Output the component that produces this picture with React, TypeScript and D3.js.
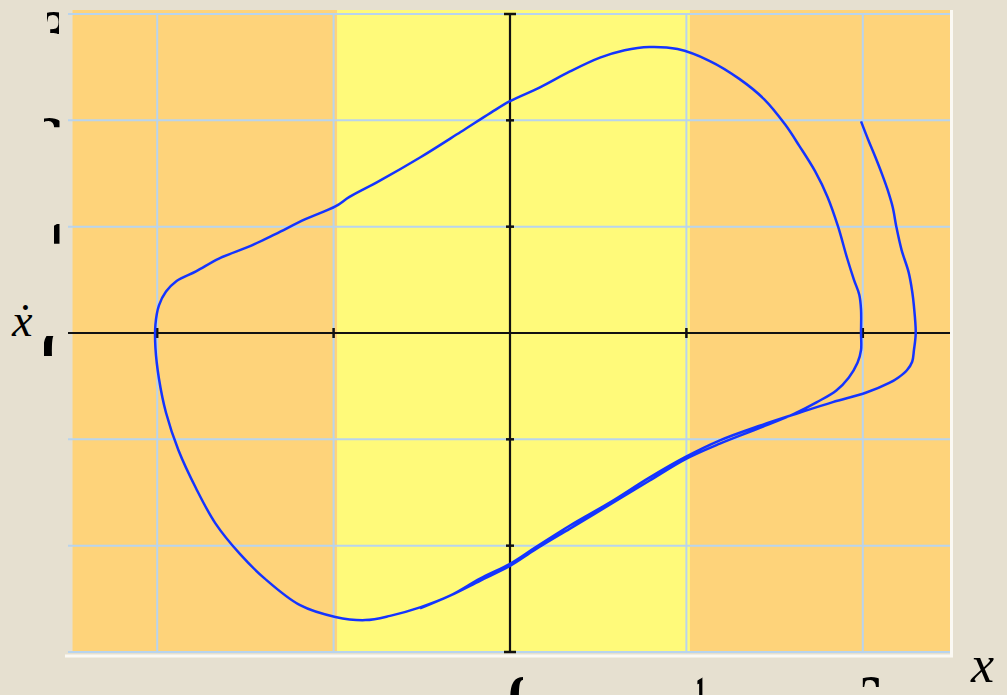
import React from "react";
import * as d3 from "d3";

const W = 1007;
const H = 695;

// Phase-plane trajectory: displacement x and velocity ẋ
const trajX = [
  1.99, 2.03, 2.07, 2.11, 2.14, 2.17, 2.19, 2.22, 2.26, 2.28, 2.29, 2.3, 2.29, 2.28, 2.25, 2.2,
  2.15, 2.02, 1.83, 1.64, 1.42, 1.19, 0.99, 0.79, 0.57, 0.34, 0.14, 0.0, -0.17, -0.34, -0.51,
  -0.68, -0.82, -0.99, -1.19, -1.39, -1.53, -1.67, -1.78, -1.88, -1.95, -1.99, -2.01, -2.01,
  -1.99, -1.95, -1.89, -1.78, -1.65, -1.47, -1.33, -1.16, -0.99, -0.91, -0.74, -0.51, -0.28,
  -0.11, 0.0, 0.17, 0.34, 0.51, 0.65, 0.79, 0.95, 1.13, 1.3, 1.44, 1.56, 1.64, 1.73, 1.8, 1.86,
  1.91, 1.95, 1.98, 1.99, 1.99, 1.99, 1.97, 1.92, 1.85, 1.74, 1.61, 1.42, 1.19, 0.99, 0.79,
  0.57, 0.34, 0.14, 0.0, -0.17, -0.34, -0.51,
];
const trajV = [
  1.99, 1.82, 1.66, 1.49, 1.35, 1.18, 1.0, 0.78, 0.57, 0.39, 0.25, 0.0, -0.16, -0.27, -0.35,
  -0.42, -0.47, -0.56, -0.65, -0.75, -0.87, -1.01, -1.17, -1.36, -1.59, -1.81, -2.02, -2.17,
  -2.31, -2.47, -2.58, -2.66, -2.7, -2.67, -2.56, -2.31, -2.08, -1.79, -1.46, -1.1, -0.75,
  -0.43, -0.14, 0.08, 0.26, 0.39, 0.49, 0.58, 0.7, 0.82, 0.93, 1.07, 1.19, 1.28, 1.43, 1.65,
  1.89, 2.07, 2.18, 2.31, 2.46, 2.59, 2.66, 2.69, 2.67, 2.56, 2.39, 2.2, 1.96, 1.76, 1.52, 1.28,
  1.0, 0.71, 0.5, 0.36, 0.22, 0.0, -0.16, -0.28, -0.42, -0.54, -0.65, -0.76, -0.89, -1.04,
  -1.19, -1.39, -1.61, -1.84, -2.04, -2.19, -2.33, -2.47, -2.59,
];

// Background bands along x
const bandFrom = [-2.48, -0.98, 1.02];
const bandTo = [-0.98, 1.02, 2.5];
const bandColor = ["#fed37a", "#fffa7a", "#fed37a"];

const gridX = [-2, -1, 1, 2];
const gridY = [3, 2, 1, -1, -2, -3];
const tickX = [-2, -1, 1, 2];
const tickY = [2, 1, -1, -2];
const xLabelValues = [0, 1, 2];
const xLabelText = ["0", "1", "2"];
const yLabelValues = [3, 2, 1, 0];
const yLabelText = ["3", "2", "1", "0"];

// Visible window of each (partly covered) tick label, relative to its tick: [dx, dy, w, h]
const yLabelWindow = [
  [47, -3, 12, 23],
  [44, -5, 15.5, 12],
  [54, -5, 5.5, 22],
  [44, 3, 12, 20],
];
const yLabelShift = [0, -5, 0, 0];
const xLabelWindow = [
  [-2, 675, 15, 20],
  [11, 675, 5, 20],
  [0, 676, 16, 11],
];
const xLabelShift = [0, 3, -3];

const BG = "#e6e0d0";
const GRID = "#b8d4ee";
const CURVE = "#1434ff";
const LABEL_FONT = "'Liberation Serif', 'DejaVu Serif', serif";

export default function App() {
  const x = d3.scaleLinear().domain([-2.5, 2.5]).range([69, 951]);
  const y = d3.scaleLinear().domain([-3, 3]).range([652, 14]);

  const pts: [number, number][] = trajX.map((v, i) => [v, trajV[i]]);
  const line = d3
    .line<[number, number]>()
    .x((d) => x(d[0]))
    .y((d) => y(d[1]))
    .curve(d3.curveCatmullRom.alpha(0.5));

  const top = y(3) - 4;
  const bottom = y(-3);
  const left = x(-2.5) - 1;
  const right = x(2.5) - 1;
  const x0 = x(0);
  const y0 = y(0);

  return (
    <svg
      width={W}
      height={H}
      style={{ position: "fixed", left: 0, top: 0, display: "block" }}
      xmlns="http://www.w3.org/2000/svg"
    >
      <defs>
        {yLabelValues.map((v, i) => {
          const [wx, wy, ww, wh] = yLabelWindow[i];
          return (
            <clipPath id={`ylab${i}`} key={`cy${i}`}>
              <rect x={wx} y={y(v) + wy} width={ww} height={wh} />
            </clipPath>
          );
        })}
        {xLabelValues.map((v, i) => {
          const [wx, wy, ww, wh] = xLabelWindow[i];
          return (
            <clipPath id={`xlab${i}`} key={`cx${i}`}>
              <rect x={x(v) + wx} y={wy} width={ww} height={wh} />
            </clipPath>
          );
        })}
      </defs>
      <rect x={0} y={0} width={W} height={H} fill={BG} />

      {/* colour bands */}
      {bandFrom.map((b, i) => (
        <rect
          key={`band${i}`}
          x={x(b)}
          y={top}
          width={x(bandTo[i]) - x(b)}
          height={bottom - top}
          fill={bandColor[i]}
        />
      ))}

      {/* grid */}
      {gridX.map((g) => (
        <line key={`gx${g}`} x1={x(g)} x2={x(g)} y1={y(3)} y2={bottom} stroke={GRID} strokeWidth={2} />
      ))}
      {gridY.map((g) => (
        <line key={`gy${g}`} x1={left} x2={right} y1={y(g)} y2={y(g)} stroke={GRID} strokeWidth={2} />
      ))}

      {/* frame edge */}
      <polyline
        points={`${right + 1.5},${top} ${right + 1.5},${bottom + 4} ${left - 3},${bottom + 4}`}
        fill="none"
        stroke="#fbf9f3"
        strokeWidth={3}
      />

      {/* axes */}
      <line x1={left} x2={right} y1={y0} y2={y0} stroke="#111" strokeWidth={2.2} />
      <line x1={x0} x2={x0} y1={y(3)} y2={bottom} stroke="#111" strokeWidth={2.2} />
      <line x1={x0 - 6} x2={x0 + 6} y1={y(3)} y2={y(3)} stroke="#111" strokeWidth={2.5} />
      <line x1={x0 - 6} x2={x0 + 6} y1={bottom} y2={bottom} stroke="#111" strokeWidth={2.5} />
      {tickY.map((t) => (
        <line key={`ty${t}`} x1={x0 - 4} x2={x0 + 4} y1={y(t)} y2={y(t)} stroke="#111" strokeWidth={2.5} />
      ))}
      {tickX.map((t) => (
        <line key={`tx${t}`} x1={x(t)} x2={x(t)} y1={y0 - 5} y2={y0 + 5} stroke="#111" strokeWidth={2.5} />
      ))}

      {/* trajectory */}
      <path d={line(pts) ?? ""} fill="none" stroke={CURVE} strokeWidth={2.5} strokeLinejoin="round" />

      {/* tick labels */}
      {yLabelValues.map((v, i) => (
        <text
          key={`yl${i}`}
          x={41 + yLabelShift[i]}
          y={y(v) + 36.5}
          clipPath={`url(#ylab${i})`}
          fontFamily={LABEL_FONT}
          fontWeight="bold"
          fontSize={60}
          fill="#000"
        >
          {yLabelText[i]}
        </text>
      ))}
      {xLabelValues.map((v, i) => (
        <text
          key={`xl${i}`}
          x={x(v) - 2 + xLabelShift[i]}
          y={715.5}
          clipPath={`url(#xlab${i})`}
          fontFamily={LABEL_FONT}
          fontWeight="bold"
          fontSize={60}
          fill="#000"
        >
          {xLabelText[i]}
        </text>
      ))}

      {/* axis titles */}
      <text x={12} y={336} fontFamily={LABEL_FONT} fontStyle="italic" fontSize={46} fill="#000">
        {"\u1E8B"}
      </text>
      <text x={971} y={682} fontFamily={LABEL_FONT} fontStyle="italic" fontSize={52} fill="#000">
        x
      </text>
    </svg>
  );
}
